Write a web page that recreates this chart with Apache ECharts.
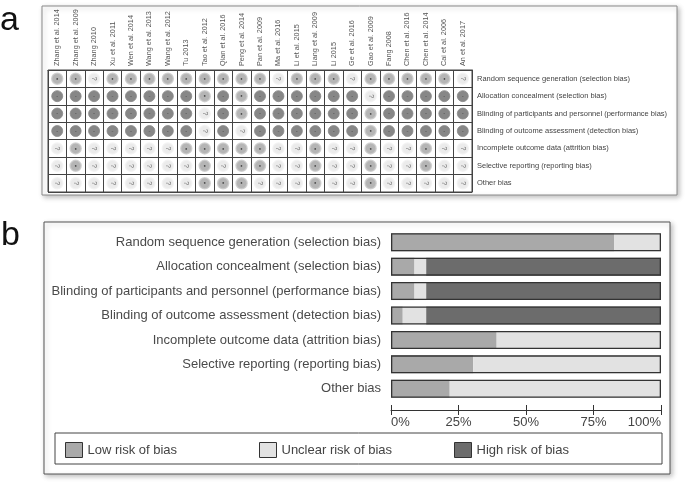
<!DOCTYPE html>
<html>
<head>
<meta charset="utf-8">
<script src="https://cdn.jsdelivr.net/npm/echarts@6/dist/echarts.min.js"></script>
<style>
html,body{margin:0;padding:0;background:#fff;}
#chart{width:689px;height:492px;}
</style>
</head>
<body>
<div id="chart"></div>
<script>
// ---------- DATA ----------
const studies = ['Zhang et al. 2014','Zhang et al. 2009','Zhang 2010','Xu et al. 2011','Wen et al. 2014','Wang et al. 2013','Wang et al. 2012','Tu 2013','Tao et al. 2012','Qian et al. 2016','Peng et al. 2014','Pan et al. 2009','Ma et al. 2016','Li et al. 2015','Liang et al. 2009','Li 2015','Ge et al. 2016','Gao et al. 2009','Fang 2008','Chen et al. 2016','Chen et al. 2014','Cai et al. 2006','An et al. 2017'];
const domains = ['Random sequence generation (selection bias)','Allocation concealment (selection bias)','Blinding of participants and personnel (performance bias)','Blinding of outcome assessment (detection bias)','Incomplete outcome data (attrition bias)','Selective reporting (reporting bias)','Other bias'];
// L = low, U = unclear, H = high (one entry per study, in the order above)
const randomSequence   = ['L','L','U','L','L','L','L','L','L','L','L','L','U','L','L','L','U','L','L','L','L','L','U'];
const allocation       = ['H','H','H','H','H','H','H','H','L','H','L','H','H','H','H','H','H','U','H','H','H','H','H'];
const blindingPart     = ['H','H','H','H','H','H','H','H','U','H','L','H','H','H','H','H','H','L','H','H','H','H','H'];
const blindingOutcome  = ['H','H','H','H','H','H','H','H','U','H','U','H','H','H','H','H','H','L','H','H','H','H','H'];
const incompleteData   = ['U','L','U','U','U','U','U','L','L','L','L','L','U','U','L','U','U','L','U','U','L','U','U'];
const selectiveReport  = ['U','L','U','U','U','U','U','U','L','U','L','L','U','U','L','U','U','L','U','U','L','U','U'];
const otherBias        = ['U','U','U','U','U','U','U','U','L','L','L','U','U','U','L','U','U','L','U','U','U','U','U'];
const legendNames = ['Low risk of bias','Unclear risk of bias','High risk of bias'];
const percentTicks = [0,25,50,75,100];

// ---------- BUILD ----------
const judgments = [randomSequence,allocation,blindingPart,blindingOutcome,incompleteData,selectiveReport,otherBias];
const codes = ['L','U','H'];
const cells = {L:[],U:[],H:[]};
judgments.forEach((row,r)=>row.forEach((c,i)=>cells[c].push([i,r])));
const pct = codes.map(code => judgments.map(row => 100*row.filter(c=>c===code).length/row.length));

const FONT = 'Liberation Sans, Arial, sans-serif';
const colors = {L:'#a9a9a9', U:'#e2e2e2', H:'#6c6c6c'};

const symStyle = {
  L:{color:'#a2a2a2',borderColor:'#cbcbcb',borderWidth:1.5},
  U:{color:'#e6e6e6',borderColor:'#f1f1f1',borderWidth:1.5},
  H:{color:'#696969',borderColor:'#8a8a8a',borderWidth:1}
};
const symLabel = {
  L:{show:true,formatter:'●',fontSize:4,color:'#222'},
  U:{show:true,formatter:'?',fontSize:7,color:'#555',rotate:-90,fontFamily:FONT},
  H:{show:true,formatter:'-',fontSize:6,color:'#444'}
};

const chart = echarts.init(document.getElementById('chart'),null,{renderer:'canvas'});
const option = {
  backgroundColor:'#fff',
  animation:false,
  textStyle:{fontFamily:FONT},
  graphic:[
    {type:'rect',z:-10,shape:{x:42,y:6,width:635,height:189},style:{fill:'#fff',stroke:'#8a8a8a',lineWidth:1,shadowBlur:5,shadowColor:'rgba(0,0,0,0.25)',shadowOffsetX:2,shadowOffsetY:2}},
    {type:'rect',z:-10,shape:{x:44,y:222,width:626,height:252},style:{fill:'#fff',stroke:'#555',lineWidth:1,shadowBlur:5,shadowColor:'rgba(0,0,0,0.25)',shadowOffsetX:2,shadowOffsetY:2}},
    {type:'rect',z:-5,shape:{x:55,y:433,width:607,height:31},style:{fill:'none',stroke:'#444',lineWidth:1}},
    {type:'text',left:0,top:4,style:{text:'a',font:'34px '+FONT,fill:'#111'}},
    {type:'text',left:1,top:219,style:{text:'b',font:'34px '+FONT,fill:'#111'}}
  ],
  grid:[
    {left:48,top:70,width:424,height:122,show:true,borderColor:'#444',borderWidth:1,backgroundColor:'#fff'},
    {left:391,top:230,width:270,height:171}
  ],
  xAxis:[
    {gridIndex:0,type:'category',data:studies,position:'top',
      axisLine:{show:true,lineStyle:{color:'#444'}},axisTick:{show:false},
      splitLine:{show:true,lineStyle:{color:'#444',width:1}},
      axisLabel:{rotate:-90,fontSize:7.3,color:'#555',margin:4,interval:0}},
    {gridIndex:1,type:'value',min:0,max:100,interval:25,offset:9,position:'bottom',
      axisLine:{show:true,lineStyle:{color:'#333'}},
      axisTick:{show:true,length:5,lineStyle:{color:'#333'}},
      splitLine:{show:false},
      axisLabel:{fontSize:13,color:'#444',margin:6,formatter:v=>percentTicks.includes(v)?v+'%':'',alignMinLabel:'left',alignMaxLabel:'right'}},
    {gridIndex:1,type:'value',min:0,max:100,interval:25,offset:9,position:'bottom',
      axisLine:{show:false},
      axisTick:{show:true,inside:true,length:5,lineStyle:{color:'#333'}},
      splitLine:{show:false},axisLabel:{show:false}}
  ],
  yAxis:[
    {gridIndex:0,type:'category',data:domains,inverse:true,position:'right',
      axisLine:{show:true,lineStyle:{color:'#444'}},axisTick:{show:false},
      splitLine:{show:true,lineStyle:{color:'#444',width:1}},
      axisLabel:{fontSize:7.5,color:'#444',margin:5,interval:0}},
    {gridIndex:1,type:'category',data:domains,inverse:true,
      axisLine:{show:false},axisTick:{show:false},
      axisLabel:{fontSize:13,color:'#4a4a4a',margin:10,interval:0}}
  ],
  legend:legendNames.map((n,i)=>({
    data:[n],left:[65,259,454][i],top:442,padding:0,itemWidth:17,itemHeight:15,itemGap:0,
    icon:'rect',
    itemStyle:{borderColor:'#333',borderWidth:1},
    textStyle:{fontSize:13,color:'#444',fontFamily:FONT},
    selectedMode:false
  })),
  series:[
    ...codes.map(c=>({
      type:'scatter',name:'a-'+c,xAxisIndex:0,yAxisIndex:0,
      data:cells[c],symbol:'circle',symbolSize:11,
      itemStyle:symStyle[c],label:Object.assign({position:'inside'},symLabel[c]),
      silent:true
    })),
    ...codes.map((c,i)=>({
      type:'bar',name:legendNames[i],xAxisIndex:1,yAxisIndex:1,stack:'risk',
      data:pct[i],barWidth:18,itemStyle:{color:colors[c]},silent:true
    })),
    {type:'bar',name:'outline',xAxisIndex:1,yAxisIndex:1,
      data:domains.map(()=>100),barWidth:18,barGap:'-100%',z:5,
      itemStyle:{color:'rgba(0,0,0,0)',borderColor:'#333',borderWidth:1.3},silent:true}
  ]
};
chart.setOption(option);
</script>
</body>
</html>
